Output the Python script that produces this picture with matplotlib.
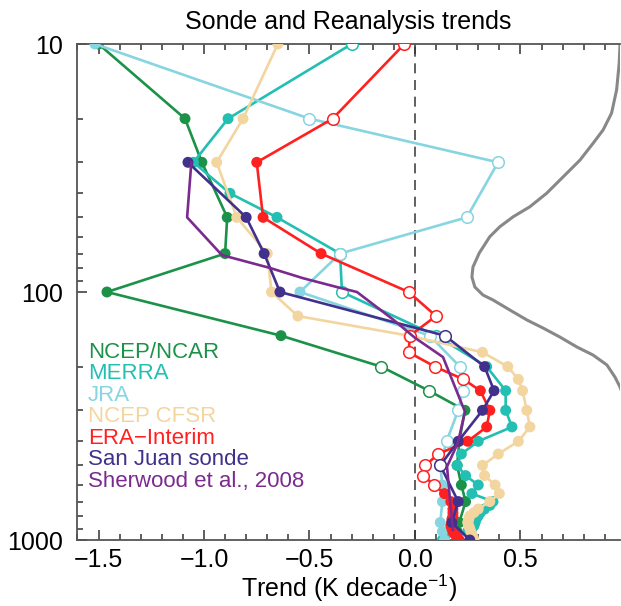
import numpy as np
import matplotlib
matplotlib.use("Agg")
import matplotlib.pyplot as plt
from matplotlib.ticker import FixedLocator, NullFormatter

plt.rcParams['font.family'] = ['Liberation Sans', 'DejaVu Sans']
plt.rcParams['mathtext.fontset'] = 'custom'
plt.rcParams['mathtext.rm'] = 'Liberation Sans'

# ---- trend profiles (K/decade) vs pressure (hPa); sig = 1 filled, 0 open ----
ncep_p = [10, 20, 30, 50, 70, 100, 150, 200, 250, 300, 400, 500, 600, 700, 850, 925, 1000]
ncep_t = [-1.50, -1.09, -1.01, -0.89, -0.90, -1.46, -0.635, -0.16, 0.066, 0.237,
          0.21, 0.20, 0.22, 0.24, 0.21, 0.20, 0.20]
ncep_sig = [1, 1, 1, 1, 1, 1, 1, 0, 0, 1, 1, 1, 1, 1, 1, 1, 1]

merra_p = [10, 20, 30, 40, 50, 70, 100, 150, 200, 250, 300, 350, 400, 450, 500, 550,
           600, 650, 700, 725, 750, 775, 800, 825, 850, 875, 900, 925, 950, 975, 1000]
merra_t = [-0.30, -0.886, -1.05, -0.877, -0.654, -0.355, -0.346, 0.10, 0.34, 0.43, 0.43,
           0.46, 0.30, 0.22, 0.20, 0.24, 0.30, 0.27, 0.37, 0.355, 0.33, 0.31, 0.30,
           0.29, 0.285, 0.28, 0.27, 0.25, 0.20, 0.14, 0.13]
merra_sig = [0, 1, 1, 1, 1, 0, 0, 0] + [1] * 23

jra_p = [10, 20, 30, 50, 70, 100, 150, 200, 250, 300, 400, 500, 600, 700, 850, 925, 1000]
jra_t = [-1.517, -0.50, 0.394, 0.246, -0.355, -0.545, 0.07, 0.213, 0.227, 0.205,
         0.15, 0.12, 0.13, 0.13, 0.12, 0.13, 0.14]
jra_sig = [1, 0, 0, 0, 0, 1, 0, 0, 0, 0, 0, 0, 1, 1, 1, 1, 1]

cfsr_p = [10, 20, 30, 50, 70, 100, 125, 150, 175, 200, 225, 250, 300, 350, 400, 450,
          500, 550, 600, 650, 700, 750, 775, 800, 825, 850, 875, 900, 925, 950, 975, 1000]
cfsr_t = [-0.65, -0.815, -0.94, -0.845, -0.70, -0.68, -0.555, -0.03, 0.32, 0.44, 0.49,
          0.51, 0.53, 0.545, 0.49, 0.395, 0.32, 0.33, 0.38, 0.40, 0.355, 0.30, 0.28,
          0.26, 0.255, 0.25, 0.255, 0.26, 0.265, 0.27, 0.275, 0.28]
cfsr_sig = [1] * 7 + [0] + [1] * 24

era_p = [10, 20, 30, 50, 70, 100, 125, 150, 175, 200, 225, 250, 300, 350, 400, 450,
         500, 550, 600, 650, 700, 750, 775, 800, 825, 850, 875, 900, 925, 950, 975, 1000]
era_t = [-0.05, -0.39, -0.75, -0.72, -0.445, -0.03, 0.10, -0.024, -0.03, 0.095, 0.23,
         0.31, 0.355, 0.34, 0.25, 0.11, 0.05, 0.04, 0.09, 0.14, 0.17, 0.18, 0.18, 0.18,
         0.175, 0.175, 0.17, 0.175, 0.18, 0.19, 0.20, 0.21]
era_sig = [0, 0, 1, 1, 1, 0, 0, 0, 0, 0, 0, 1, 1, 1, 1, 0, 0, 0, 0] + [1] * 13

sj_p = [30, 50, 70, 100, 150, 200, 250, 300, 400, 500, 700, 850, 1000]
sj_t = [-1.076, -0.80, -0.715, -0.64, 0.142, 0.33, 0.375, 0.32, 0.205, 0.12, 0.205, 0.175, 0.26]
sj_sig = [1, 1, 1, 1, 0, 1, 1, 1, 1, 0, 1, 1, 1]

sher_p = [30, 50, 71, 80, 88, 95.5, 100, 129, 153, 183, 284, 303, 405, 506, 688, 910]
sher_t = [-1.06, -1.08, -0.915, -0.687, -0.53, -0.37, -0.275, -0.104, 0.0, 0.133,
          0.223, 0.237, 0.204, 0.152, 0.166, 0.18]

# reference weighting profile drawn at the right
wf_p = [10.1, 12.0, 15.3, 19.0, 22.2, 25.1, 29.4, 34.3, 40.0, 45.3, 49.7, 54.5, 59.8,
        65.7, 69.6, 79.3, 87.0, 95.5, 102.8, 107.7, 118.2, 129.7, 139.7, 151.9, 166.7,
        179.5, 196.9, 220.2, 241.5, 280]
wf_t = [0.972, 0.968, 0.956, 0.932, 0.892, 0.845, 0.782, 0.703, 0.624, 0.545, 0.466,
        0.403, 0.355, 0.324, 0.305, 0.275, 0.270, 0.284, 0.322, 0.370, 0.450, 0.531,
        0.607, 0.687, 0.768, 0.844, 0.910, 0.948, 0.972, 1.0]

names = ["NCEP/NCAR", "MERRA", "JRA", "NCEP CFSR", "ERA\u2212Interim",
         "San Juan sonde", "Sherwood et al., 2008"]
colors = ["#1b9248", "#22bfb2", "#86d5e0", "#f3d5a0", "#ff2020", "#41308c", "#7b2a8e"]

fig = plt.figure(figsize=(6.21, 6.06), dpi=100)
ax = fig.add_axes([77 / 621, 1 - 540 / 606, 543 / 621, 496 / 606])

ax.plot(wf_t, wf_p, color="#888888", lw=2.2, zorder=1,
        solid_capstyle='round', solid_joinstyle='round')
ax.axvline(0.0, color="#444444", lw=1.2, ls=(0, (6, 4)), zorder=1)

series = [(ncep_t, ncep_p, ncep_sig), (merra_t, merra_p, merra_sig),
          (jra_t, jra_p, jra_sig), (cfsr_t, cfsr_p, cfsr_sig),
          (era_t, era_p, era_sig), (sj_t, sj_p, sj_sig)]

for k, ((t, p, sig), c) in enumerate(zip(series, colors)):
    t = np.asarray(t); p = np.asarray(p); sig = np.asarray(sig, bool)
    z = 2 + k
    ax.plot(t, p, color=c, lw=1.9, zorder=z)
    ax.scatter(t[sig], p[sig], s=62, color=c, edgecolors='none', zorder=z)
    ax.scatter(t[~sig], p[~sig], s=70, facecolors='white', edgecolors=c,
               linewidths=1.1, zorder=z)

ax.plot(sher_t, sher_p, color=colors[6], lw=1.9, zorder=9)

ax.set_yscale('log')
ax.set_ylim(1000, 10)
ax.set_xlim(-1.602, 0.972)
ax.yaxis.set_major_locator(FixedLocator([10, 100, 1000]))
ax.set_yticklabels(["10", "100", "1000"])
ax.yaxis.set_minor_locator(FixedLocator([20, 30, 40, 50, 60, 70, 80, 90,
                                         200, 300, 400, 500, 600, 700, 800, 900]))
ax.yaxis.set_minor_formatter(NullFormatter())
ax.set_xticks([-1.5, -1.0, -0.5, 0.0, 0.5])
ax.set_xticks(np.arange(-1.6, 0.97, 0.1), minor=True)

ax.spines['right'].set_visible(False)
for s in ['left', 'top', 'bottom']:
    ax.spines[s].set_color('#555555')
    ax.spines[s].set_linewidth(1.3)
ax.tick_params(axis='both', which='both', direction='in', color='#333333', width=1.1)
ax.tick_params(axis='x', which='both', top=True, bottom=True)
ax.tick_params(axis='y', which='both', left=True, right=False)
ax.tick_params(which='major', length=7, labelsize=18)
ax.tick_params(which='minor', length=4)
ax.tick_params(axis='y', which='major', pad=10)
ax.tick_params(axis='x', which='major', pad=6)

ax.set_title("Sonde and Reanalysis trends", fontsize=18, pad=11)
ax.set_xlabel("Trend (K decade$^{\\mathregular{-1}}$)", fontsize=18, labelpad=0)

y0 = 0.379
for i, (n, c) in enumerate(zip(names, colors)):
    ax.text(0.02, y0 - i * 0.0434, n, transform=ax.transAxes, color=c,
            fontsize=16, va='center', ha='left', zorder=12)

fig.savefig("out.png", dpi=100)
